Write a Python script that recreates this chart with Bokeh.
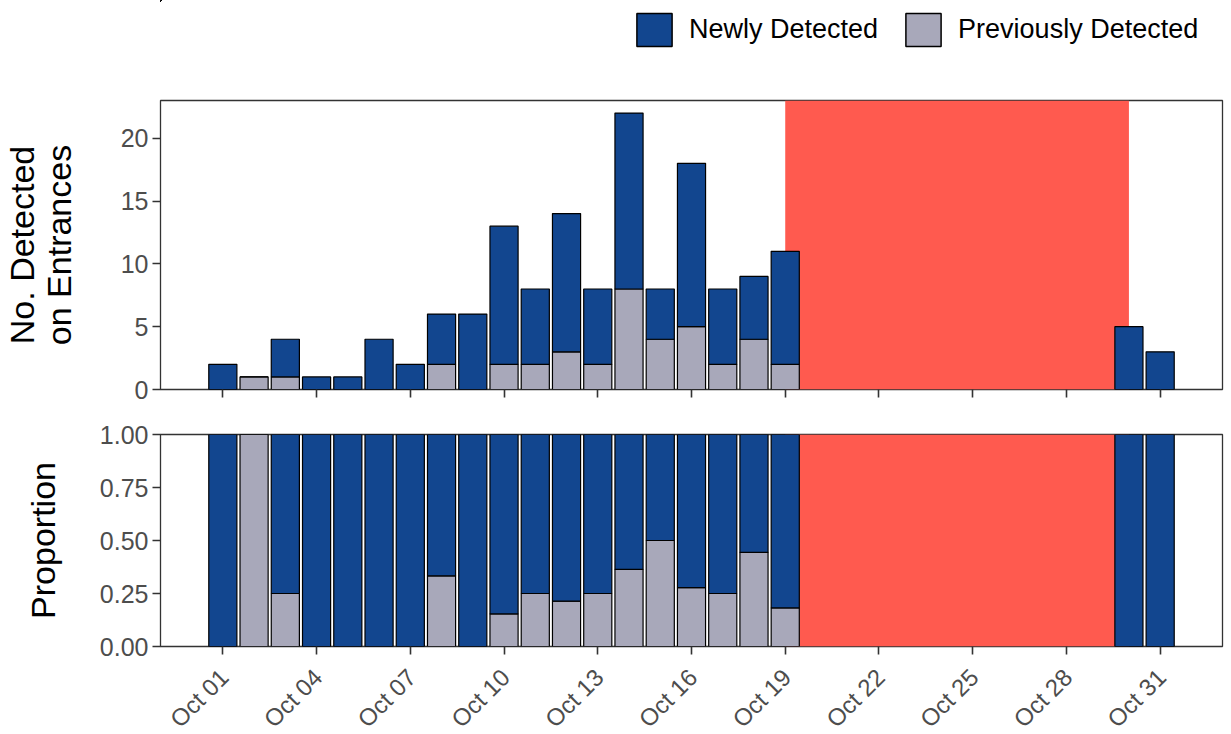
import math
from bokeh.plotting import figure
from bokeh.models import (Range1d, FixedTicker, Legend, LegendItem, ColumnDataSource,
                          CustomJSTickFormatter)
from bokeh.layouts import column
from bokeh.embed import file_html
from bokeh.resources import INLINE

# ---- data ----
days = [1, 2, 3, 4, 5, 6, 7, 8, 9, 10, 11, 12, 13, 14, 15, 16, 17, 18, 19, 30, 31]
total = [2, 1, 4, 1, 1, 4, 2, 6, 6, 13, 8, 14, 8, 22, 8, 18, 8, 9, 11, 5, 3]
previously = [0, 1, 1, 0, 0, 0, 0, 2, 0, 2, 2, 3, 2, 8, 4, 5, 2, 4, 2, 0, 0]
newly = [t - p for t, p in zip(total, previously)]
prop_prev = [p / t for p, t in zip(previously, total)]
prop_new = [1 - q for q in prop_prev]

no_data_start = 19
no_data_end = 30

x_ticks = [1, 4, 7, 10, 13, 16, 19, 22, 25, 28, 31]
x_tick_labels = ["Oct 01", "Oct 04", "Oct 07", "Oct 10", "Oct 13", "Oct 16",
                 "Oct 19", "Oct 22", "Oct 25", "Oct 28", "Oct 31"]
count_ticks = [0, 5, 10, 15, 20]
prop_ticks = [0, 0.25, 0.5, 0.75, 1.0]
prop_tick_labels = ["0.00", "0.25", "0.50", "0.75", "1.00"]
legend_labels = ["Newly Detected", "Previously Detected"]

NAVY = "#12468F"
GREY = "#A8A8BA"
RED = "#FF5A4F"
FONT = "Liberation Sans"

src = ColumnDataSource(dict(day=days, prev=previously, new=newly,
                            pprev=prop_prev, pnew=prop_new))

x_range = Range1d(-0.995, 32.995)
count_max = 23.0
label_shift = -0.26   # horizontal nudge of the rotated date labels, in days


def style(p):
    p.xgrid.grid_line_color = None
    p.ygrid.grid_line_color = None
    p.outline_line_color = "#333333"
    p.outline_line_width = 1.3
    for ax in (p.xaxis[0], p.yaxis[0]):
        ax.axis_line_color = None
        ax.major_tick_line_color = "#333333"
        ax.major_tick_line_width = 1.6
        ax.major_tick_in = 0
        ax.major_tick_out = 8
        ax.minor_tick_line_color = None
        ax.major_label_text_font = FONT
        ax.major_label_text_font_size = "25px"
        ax.major_label_text_color = "#4D4D4D"
        ax.major_label_standoff = 4
        ax.axis_label_text_font = FONT
        ax.axis_label_text_font_size = "34px"
        ax.axis_label_text_font_style = "normal"
        ax.axis_label_text_color = "black"
        ax.axis_label_text_line_height = 0.96
    p.xaxis.ticker = FixedTicker(ticks=x_ticks)
    p.xaxis.formatter = CustomJSTickFormatter(code="return ''")
    p.xaxis.major_label_standoff = 0
    p.background_fill_color = "white"
    p.border_fill_color = "white"


W = 1224

# ---- legend strip (its bars lie outside its ranges; only the legend shows) ----
pl = figure(width=W, height=98, x_range=Range1d(100, 101), y_range=Range1d(-2, -1),
            output_backend="svg", toolbar_location=None, min_border=0)
pl.axis.visible = False
pl.grid.visible = False
pl.outline_line_color = None
rn = pl.vbar(x="day", top="new", width=0.9, source=src,
             fill_color=NAVY, line_color="black", line_width=1.5)
rp = pl.vbar(x="day", top="prev", width=0.9, source=src,
             fill_color=GREY, line_color="black", line_width=1.5)
legend = Legend(items=[LegendItem(label=legend_labels[0], renderers=[rn]),
                       LegendItem(label=legend_labels[1], renderers=[rp])],
                orientation="horizontal", location=(472, 48),
                label_text_font=FONT, label_text_font_size="27px",
                label_text_color="black",
                glyph_width=44, glyph_height=41, label_standoff=13, spacing=23,
                padding=0, margin=0, border_line_color=None,
                background_fill_alpha=0)
pl.add_layout(legend)

# ---- top panel ----
p1 = figure(width=W, height=313, x_range=x_range, y_range=Range1d(0, count_max),
            output_backend="svg", toolbar_location=None,
            min_border_left=159, min_border_right=2, min_border_top=2, min_border_bottom=22)
style(p1)
p1.quad(left=[no_data_start], right=[no_data_end], bottom=[0], top=[count_max],
        fill_color=RED, line_color=None)
p1.vbar_stack(["prev", "new"], x="day", width=0.9, source=src,
              fill_color=[GREY, NAVY], line_color="black", line_width=1.2)
p1.yaxis.ticker = FixedTicker(ticks=count_ticks)
p1.yaxis.axis_label = "No. Detected\non Entrances"
p1.yaxis.axis_label_standoff = 40

# ---- bottom panel ----
p2 = figure(width=W, height=252, x_range=x_range, y_range=Range1d(0, 1),
            output_backend="svg", toolbar_location=None,
            min_border_left=159, min_border_right=2, min_border_top=23, min_border_bottom=17)
style(p2)
p2.quad(left=[no_data_start], right=[no_data_end], bottom=[0], top=[1],
        fill_color=RED, line_color=None)
p2.vbar_stack(["pprev", "pnew"], x="day", width=0.9, source=src,
              fill_color=[GREY, NAVY], line_color="black", line_width=1.2)
p2.yaxis.ticker = FixedTicker(ticks=prop_ticks)
p2.yaxis.major_label_overrides = {t: l for t, l in zip(prop_ticks, prop_tick_labels)}
p2.yaxis.axis_label = "Proportion"
p2.yaxis.axis_label_standoff = 35

# ---- rotated date labels strip (shares the x scale) ----
H3 = 71
p3 = figure(width=W, height=H3, x_range=x_range, y_range=Range1d(0, H3),
            output_backend="svg", toolbar_location=None, min_border=0,
            min_border_left=159, min_border_right=2)
p3.axis.visible = False
p3.grid.visible = False
p3.outline_line_color = None
p3.background_fill_color = "white"
p3.border_fill_color = "white"
lab_src = ColumnDataSource(dict(x=[t + label_shift for t in x_ticks],
                                y=[H3] * len(x_ticks),
                                text=x_tick_labels))
p3.text(x="x", y="y", text="text", source=lab_src, angle=math.pi / 4,
        text_align="right", text_baseline="top", text_font_size="24px",
        text_font={"value": FONT}, text_color="#4D4D4D")

layout = column(pl, p1, p2, p3)
open("out.html", "w").write(file_html(layout, INLINE))
